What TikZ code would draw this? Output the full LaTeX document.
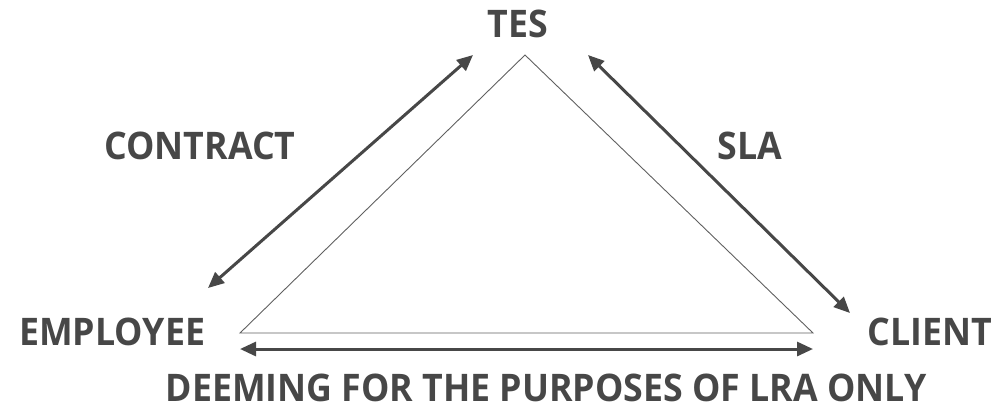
\documentclass[tikz,border=0pt]{standalone}
\usepackage{fontspec}
\setmainfont{Open Sans}[FakeStretch=0.94]
\usetikzlibrary{arrows.meta, positioning}
\definecolor{darkgrey}{HTML}{474747}
\definecolor{edgegrey}{HTML}{606060}

\begin{document}
\begin{tikzpicture}[x=1pt, y=-1pt,
  party/.style={text=darkgrey, font=\fontsize{38}{44}\selectfont\bfseries, inner sep=0pt, text depth=0pt, anchor=base},
  link/.style={darkgrey, line width=3pt, {Triangle[length=16pt, width=14pt]}-{Triangle[length=16pt, width=14pt]}},
  side/.style={edgegrey, line width=0.9pt}]
\useasboundingbox (0,0) rectangle (995,408);
% parties
\node[party] (tes) at (518,37) {TES};
\node[party] (employee) at (112,345) {EMPLOYEE};
\node[party] (client) at (930,345) {CLIENT};
% relationships
\node[party] (contract) at (200,159) {CONTRACT};
\node[party] (sla) at (750,159) {SLA};
\node[party] (deeming) at (546,401) {DEEMING FOR THE PURPOSES OF LRA ONLY};
% triangle
\coordinate (top) at (525,55);
\coordinate (left) at (240,333);
\coordinate (right) at (813,333);
\draw[side] (top) -- (left) -- (right) -- cycle;
% arrows
\coordinate (c1) at (208,288);
\coordinate (c2) at (473,55);
\coordinate (s1) at (588,55);
\coordinate (s2) at (850,313);
\coordinate (d1) at (240,349);
\coordinate (d2) at (813,349);
\draw[link] (c1) -- (c2);
\draw[link] (s1) -- (s2);
\draw[link] (d1) -- (d2);
\end{tikzpicture}
\end{document}
